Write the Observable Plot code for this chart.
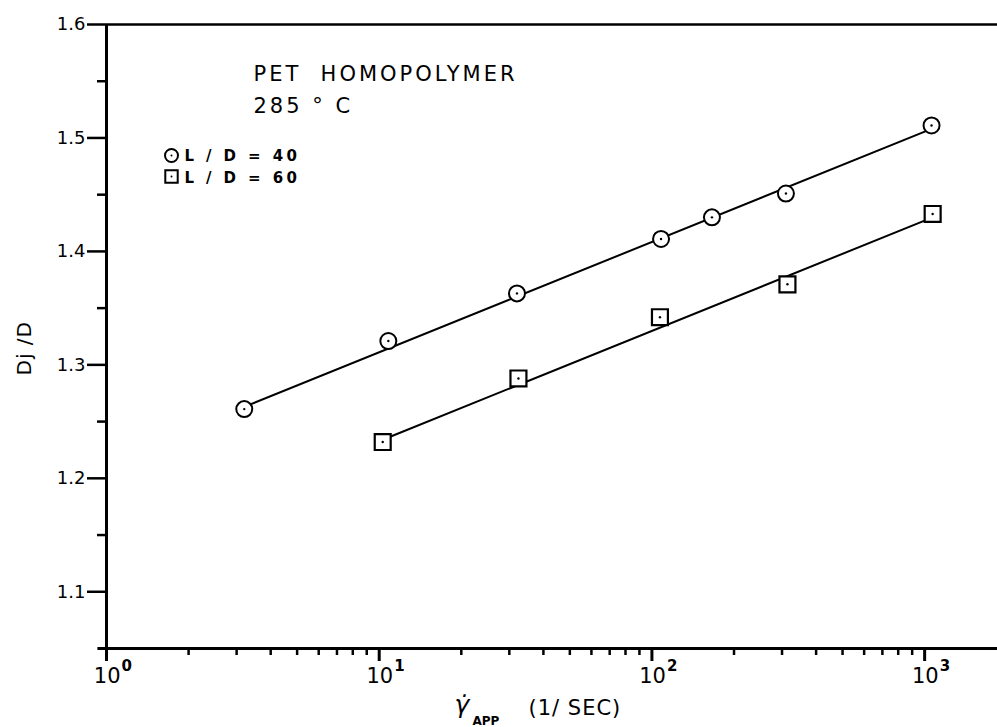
<!DOCTYPE html>
<html>
<head>
<meta charset="utf-8">
<script src="https://cdn.jsdelivr.net/npm/d3@7"></script>
<script src="https://cdn.jsdelivr.net/npm/@observablehq/plot@0.6"></script>
<style>
  html, body { margin: 0; padding: 0; background: #fff; }
  svg { display: block; }
  .lsTitle text { letter-spacing: 3px; }
  .ls3 text { letter-spacing: 3px; }
  .ls1 text { letter-spacing: 1px; }
  .lsleg text { letter-spacing: 3.4px; }
</style>
</head>
<body>
<div id="chart"></div>
<script>
// Data
const circleShear = [3.2, 10.8, 32, 108, 166, 310, 1060];
const circleRatio = [1.261, 1.321, 1.363, 1.411, 1.430, 1.451, 1.511];
const squareShear = [10.3, 32.4, 107, 314, 1070];
const squareRatio = [1.232, 1.288, 1.342, 1.371, 1.433];
// fitted straight lines (end points)
const circleFitShear = [3.2, 1060];
const circleFitRatio = [1.263, 1.508];
const squareFitShear = [10.3, 1070];
const squareFitRatio = [1.234, 1.430];
// ticks
const yMajor = [1.1, 1.2, 1.3, 1.4, 1.5, 1.6];
const yMinor = [1.15, 1.25, 1.35, 1.45, 1.55];
const xMajor = [1, 10, 100, 1000];
const xExponent = ["0", "1", "2", "3"];
const xMinor = [2,3,4,5,6,7,8,9,20,30,40,50,60,70,80,90,200,300,400,500,600,700,800,900];

const circles = circleShear.map((x, i) => ({x, y: circleRatio[i]}));
const squares = squareShear.map((x, i) => ({x, y: squareRatio[i]}));
const circleFit = circleFitShear.map((x, i) => ({x, y: circleFitRatio[i]}));
const squareFit = squareFitShear.map((x, i) => ({x, y: squareFitRatio[i]}));
const xTicks = xMajor.map((x, i) => ({x, e: xExponent[i]}));

const FONT = "DejaVu Sans, sans-serif";

const chart = Plot.plot({
  width: 997,
  height: 727,
  marginLeft: 106,
  marginRight: 0,
  marginTop: 24,
  marginBottom: 79,
  style: {fontFamily: FONT, background: "#fff", color: "#000"},
  x: {type: "log", domain: [1, 1850], axis: null},
  y: {domain: [1.05, 1.6], axis: null},
  marks: [
    // frame: left axis, top line, bottom axis
    Plot.ruleX([1], {stroke: "#000", strokeWidth: 3}),
    Plot.ruleY([1.6], {stroke: "#000", strokeWidth: 2.5}),
    Plot.ruleY([1.05], {stroke: "#000", strokeWidth: 3, x1: 0.93, x2: 1850}),
    // y axis ticks
    Plot.axisY(yMajor, {tickSize: 19, tickPadding: 2, strokeWidth: 2.5, fontSize: 18, tickFormat: d => d.toFixed(1), label: null}),
    Plot.axisY(yMinor, {tickSize: 9, strokeWidth: 2.5, tickFormat: () => "", label: null}),
    // x axis ticks
    Plot.axisX(xMajor, {tickSize: 13, strokeWidth: 3, tickFormat: () => "", label: null}),
    Plot.axisX(xMinor, {tickSize: 7, strokeWidth: 2.5, tickFormat: () => "", label: null}),
    Plot.text(xTicks, {x: "x", y: () => 1.05, text: () => "10", textAnchor: "end", dx: 14, dy: 34, lineAnchor: "bottom", fontSize: 21, fill: "#000"}),
    Plot.text(xTicks, {x: "x", y: () => 1.05, text: "e", textAnchor: "start", dx: 15, dy: 22, lineAnchor: "bottom", fontSize: 15, fontWeight: "bold", fill: "#000"}),
    // fitted lines
    Plot.line(circleFit, {x: "x", y: "y", stroke: "#000", strokeWidth: 2}),
    Plot.line(squareFit, {x: "x", y: "y", stroke: "#000", strokeWidth: 2}),
    // markers
    Plot.dot(circles, {x: "x", y: "y", r: 8, symbol: "circle", fill: "#fff", stroke: "#000", strokeWidth: 2}),
    Plot.dot(squares, {x: "x", y: "y", r: 9, symbol: "square", fill: "#fff", stroke: "#000", strokeWidth: 2.2}),
    Plot.dot(circles, {x: "x", y: "y", r: 1.2, fill: "#000"}),
    Plot.dot(squares, {x: "x", y: "y", r: 1.2, fill: "#000"}),
    // annotations
    Plot.text(["PET  HOMOPOLYMER"], {frameAnchor: "top-left", dx: 147, dy: 56, lineAnchor: "bottom", textAnchor: "start", fontSize: 21, fill: "#000", className: "lsTitle"}),
    Plot.text(["285 ° C"], {frameAnchor: "top-left", dx: 147, dy: 88, lineAnchor: "bottom", textAnchor: "start", fontSize: 21, fill: "#000", className: "ls3"}),
    // legend
    Plot.dot([0], {frameAnchor: "top-left", dx: 65, dy: 131, r: 6.5, symbol: "circle", fill: "#fff", stroke: "#000", strokeWidth: 2}),
    Plot.dot([0], {frameAnchor: "top-left", dx: 65, dy: 152, r: 7, symbol: "square", fill: "#fff", stroke: "#000", strokeWidth: 2}),
    Plot.dot([0], {frameAnchor: "top-left", dx: 65, dy: 131, r: 1, fill: "#000"}),
    Plot.dot([0], {frameAnchor: "top-left", dx: 65, dy: 152, r: 1, fill: "#000"}),
    Plot.text(["L / D = 40"], {frameAnchor: "top-left", dx: 78, dy: 136, lineAnchor: "bottom", textAnchor: "start", fontSize: 15, fontWeight: "bold", fill: "#000", className: "lsleg"}),
    Plot.text(["L / D = 60"], {frameAnchor: "top-left", dx: 78, dy: 158, lineAnchor: "bottom", textAnchor: "start", fontSize: 15, fontWeight: "bold", fill: "#000", className: "lsleg"}),
    // axis titles
    Plot.text(["Dj /D"], {frameAnchor: "left", dx: -82, dy: 39, rotate: -90, fontSize: 20, fill: "#000", className: "ls1"}),
    Plot.text(["γ̇"], {frameAnchor: "bottom-left", dx: 348, dy: 64, lineAnchor: "bottom", textAnchor: "start", fontSize: 25, fontStyle: "italic", fill: "#000"}),
    Plot.text(["APP"], {frameAnchor: "bottom-left", dx: 366, dy: 76, lineAnchor: "bottom", textAnchor: "start", fontSize: 12, fontWeight: "bold", fill: "#000"}),
    Plot.text(["(1/ SEC)"], {frameAnchor: "bottom-left", dx: 422, dy: 66, lineAnchor: "bottom", textAnchor: "start", fontSize: 21, fill: "#000", className: "ls1"})
  ]
});
document.getElementById("chart").appendChild(chart);
</script>
</body>
</html>
